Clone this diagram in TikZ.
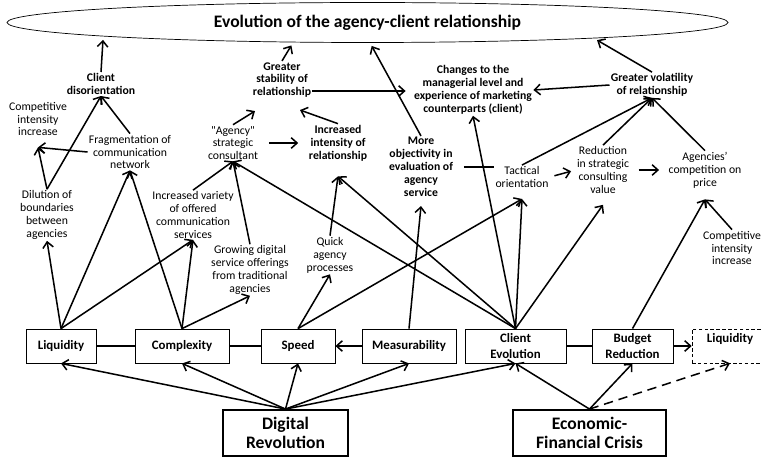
\documentclass[tikz,border=0pt]{standalone}
\usepackage{fontspec}
\setmainfont{Carlito}
\usetikzlibrary{arrows.meta,positioning,calc,shapes.geometric}

\begin{document}
\begin{tikzpicture}[
    x=0.03cm, y=-0.03cm,
    >={Straight Barb[length=5pt,width=9pt]},
    every node/.style={align=center},
    lbl/.style={font=\fontsize{10}{11}\selectfont, inner sep=1pt},
    key/.style={lbl, font=\fontsize{10}{11}\selectfont\bfseries},
    fac/.style={draw, line width=0.7pt, font=\fontsize{11}{13.5}\selectfont\bfseries,
      minimum height=1.02cm, inner sep=1.5pt},
    root/.style={draw, line width=1.6pt, font=\fontsize{15}{16}\selectfont\bfseries,
      minimum height=1.38cm, inner sep=2pt},
    arr/.style={->, line width=1.3pt},
    link/.style={line width=1.3pt},
    up/.style={arr, shorten >=3pt},
  ]
    \useasboundingbox (0,0) rectangle (762,457);

    % --- goal ---
    \node[ellipse, draw, line width=0.6pt, minimum width=21.63cm, minimum height=1.2cm,
      inner sep=0pt, font=\fontsize{15}{16}\selectfont\bfseries] (goal) at (367.5,22.5)
      {Evolution of the agency-client relationship};

    % --- effects, left ---
    \node[key] (cdis)  at (101,84)  {Client\\disorientation};
    \node[lbl] (cint1) at (38,119)  {Competitive\\intensity\\increase};
    \node[lbl] (frag)  at (130,152) {Fragmentation of\\communication\\network};
    \node[lbl] (dil)   at (47,215)  {Dilution of\\boundaries\\between\\agencies};
    \node[lbl] (ivar)  at (193,215) {Increased variety\\of offered\\communication\\services};
    \node[lbl] (grow)  at (250,270) {Growing digital\\service offerings\\from traditional\\agencies};

    % --- effects, middle ---
    \node[lbl] (agcy)  at (233,143) {\textquotedbl Agency\textquotedbl\\strategic\\consultant};
    \node[key] (gstab) at (282,80)  {Greater\\stability of\\relationship};
    \node[key] (iint)  at (338,143) {Increased\\intensity of\\relationship};
    \node[lbl] (quick) at (330,255) {Quick\\agency\\processes};
    \node[key] (chg)   at (473,90)  {Changes to the\\managerial level and\\experience of marketing\\counterparts (client)};
    \node[key] (obj)   at (421,167) {More\\objectivity in\\evaluation of\\agency\\service};

    % --- effects, right ---
    \node[lbl] (tact)  at (522,177) {Tactical\\orientation};
    \node[lbl] (red)   at (603,170) {Reduction\\in strategic\\consulting\\value};
    \node[lbl] (comp)  at (705,170) {Agencies'\\competition on\\price};
    \node[key] (gvol)  at (652,85)  {Greater volatility\\of relationship};
    \node[lbl] (cint2) at (732,248) {Competitive\\intensity\\increase};

    % --- factors ---
    \node[fac, minimum width=2.1cm]  (liq)  at (61,346)    {Liquidity};
    \node[fac, minimum width=2.82cm] (cplx) at (182,346)   {Complexity};
    \node[fac, minimum width=2.22cm] (spd)  at (298,346)   {Speed};
    \node[fac, minimum width=2.82cm] (meas) at (409,346)   {Measurability};
    \node[fac, minimum width=3.03cm] (cevo) at (515.5,346) {Client\\Evolution};
    \node[fac, minimum width=2.43cm] (bud)  at (632.5,346) {Budget\\Reduction};
    \node[fac, densely dashed, line width=0.5pt, minimum width=2.28cm] (liq2) at (730,346)
      {Liquidity\\\phantom{L}};

    % --- causes ---
    \node[root, minimum width=3.75cm] (digi)   at (285.5,433) {Digital\\Revolution};
    \node[root, minimum width=4.59cm] (crisis) at (589.5,433) {Economic-\\Financial Crisis};

    % --- arrow ports ---
    \coordinate (cinin) at ($(cint1.south)+(0,10)$);
    \coordinate (gsout) at ($(gstab.east)+(0,11)$);
    \coordinate (iin)   at ($(iint.south)+(0,14)$);
    \coordinate (tin)   at ($(tact.south)+(0,10)$);
    \coordinate (rin)   at ($(red.south)+(0,10)$);
    \coordinate (cin)   at ($(comp.south)+(0,10)$);

    % --- into the goal ---
    \draw[up] (cdis.north)  -- (goal.183.2);
    \draw[up] (gstab.north) -- (goal.195.5);
    \draw[up] (obj.north)   -- (goal.277);
    \draw[up] (gvol.north)  -- (goal.356.9);

    % --- left cluster ---
    \draw[arr] (dil.north) -- (cinin);
    \draw[arr] (frag.west) -- (cinin);
    \draw[arr] (dil.north) -- (cdis.south);
    \draw[arr] (frag.north) -- (cdis.south);
    \foreach \t in {dil,frag,ivar} \draw[arr] (liq.north) -- (\t.south);
    \foreach \t in {frag,ivar,grow} \draw[arr] (cplx.north) -- (\t.south);

    % --- middle cluster ---
    \draw[arr] (ivar.north) -- (agcy.south);
    \draw[arr] (grow.north) -- (agcy.south);
    \draw[arr] (cevo.north) -- (agcy.south);
    \draw[arr] (agcy.north) -- ($(gstab.south)+(-27,12)$);
    \draw[arr, shorten <=8pt, shorten >=8pt] (agcy.east) -- (iint.west);
    \draw[arr] (iint.north) -- ($(gstab.south)+(18,11)$);
    \draw[arr, shorten >=6pt] (gsout) -- (gsout -| chg.west);
    \draw[arr] (quick.north) -- (iin);
    \draw[arr] (cevo.north) -- (iin);
    \draw[arr] (spd.north) -- (quick.south);
    \draw[arr] (meas.north) -- ($(obj.south)+(0,8)$);
    \draw[arr] (cevo.north) -- (chg.south);
    \draw[link, shorten <=8pt] (obj.east) -- (obj.east -| tact.west);

    % --- right cluster ---
    \draw[arr] (spd.north) -- (tin);
    \draw[arr] (cevo.north) -- (tin);
    \draw[arr] (cevo.north) -- (rin);
    \draw[arr] (bud.north) -- (cin);
    \draw[arr] (cint2.north) -- (cin);
    \draw[arr, shorten <=4pt, shorten >=4pt] (tact.east) -- (red.west);
    \draw[arr, shorten <=7pt, shorten >=7pt] (red.east) -- (comp.west);
    \foreach \t in {tact,red,comp} \draw[arr] (\t.north) -- (gvol.south);
    \draw[arr] (gvol.west) -- (chg.east);

    % --- factor row ---
    \draw[link] (liq) -- (cplx);
    \draw[link] (cplx) -- (spd);
    \draw[arr] (meas) -- (spd);
    \draw[link] (cevo) -- (bud);
    \draw[arr] (bud) -- (liq2);

    % --- causes into factors ---
    \foreach \t in {liq,cplx,spd,meas,cevo} \draw[arr] (digi.north) -- (\t.south);
    \foreach \t in {cevo,bud} \draw[arr] (crisis.north) -- (\t.south);
    \draw[arr, dash pattern=on 8pt off 5pt] (crisis.north) -- (liq2.south);
  \end{tikzpicture}
\end{document}
